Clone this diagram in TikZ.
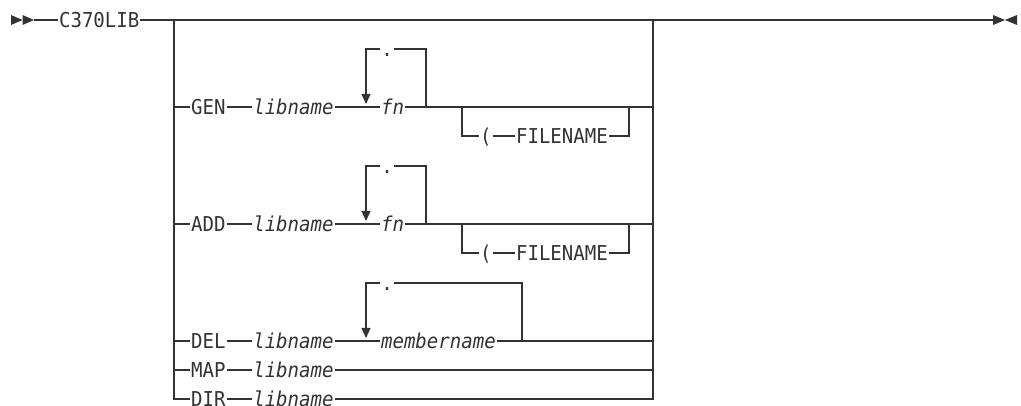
\documentclass[tikz,border=0pt]{standalone}
\usepackage{fontspec}
\setmonofont[FakeStretch=0.93]{DejaVu Sans Mono}
\usepackage{tikz}
\usetikzlibrary{arrows.meta,positioning}

\begin{document}
\begin{tikzpicture}[x=1pt,y=-1pt,line width=1.1pt,color=black!80,
    kw/.style={inner xsep=0.5pt,inner ysep=0pt,text height=14.9pt,text depth=0pt,
      font=\fontsize{20.5}{24}\selectfont\ttfamily},
    var/.style={kw,font=\fontsize{20.5}{24}\selectfont\ttfamily\itshape},
    rep/.style={-{Triangle[width=9pt,length=10pt]}}]
  \useasboundingbox (0,0) rectangle (1021,406);
  % start and end of the syntax line
  \coordinate (start) at (34,20);
  \coordinate (stop) at (993,20);
  \fill (11,15) -- (22.5,20) -- (11,25) -- cycle;
  \fill (22.5,15) -- (34,20) -- (22.5,25) -- cycle;
  \fill (993,15) -- (1005,20) -- (993,25) -- cycle;
  \fill (1017,15) -- (1005,20) -- (1017,25) -- cycle;
  \node[kw,anchor=west] (cmd) at (58,20) {C370LIB};
  \coordinate (lt) at (174,20);
  \coordinate (rt) at (653,20);
  \coordinate (dashL) at (659,20);
  \coordinate (dashR) at (683,20);
  \draw (start) -- (cmd);
  \draw (cmd) -- (stop);
  \draw[line width=2pt] (dashL) -- (dashR);
  % GEN and ADD: libname, repeated fn, optional (FILENAME
  \foreach \k/\y in {GEN/107,ADD/224} {
    \node[kw,anchor=west] (\k) at (190,\y) {\k};
    \node[var,right=25.7pt of \k] (lib\k) {libname};
    \node[var,anchor=west] (fn\k) at (380,\y) {fn};
    \node[kw] (dot\k) at (387,\y-58) {.};
    \coordinate (loopL\k) at (366,\y-58);
    \coordinate (loopR\k) at (426,\y-58);
    \coordinate (tip\k) at (366,\y-3);
    \coordinate (on\k) at (462,\y);
    \coordinate (off\k) at (629,\y);
    \node[kw,anchor=west] (par\k) at (479,\y+29) {(};
    \node[kw,anchor=west] (file\k) at (515,\y+29) {FILENAME};
    \draw (lt |- \k) -- (\k);
    \draw (\k) -- (lib\k);
    \draw (lib\k) -- (fn\k);
    \draw[rep] (dot\k) -- (loopL\k) -- (tip\k);
    \draw (dot\k) -- (loopR\k) -- (loopR\k |- fn\k);
    \draw (fn\k) -- (rt |- fn\k);
    \draw (on\k) -- (on\k |- par\k) -- (par\k);
    \draw (par\k) -- (file\k);
    \draw (file\k) -- (off\k |- file\k) -- (off\k);
  }
  % DEL: libname, repeated membername
  \node[kw,anchor=west] (DEL) at (190,341) {DEL};
  \node[var,right=25.7pt of DEL] (libDEL) {libname};
  \node[var,anchor=west] (member) at (380,341) {membername};
  \node[kw] (dotDEL) at (387,283) {.};
  \coordinate (loopLDEL) at (366,283);
  \coordinate (loopRDEL) at (522,283);
  \coordinate (tipDEL) at (366,338);
  \draw (lt |- DEL) -- (DEL);
  \draw (DEL) -- (libDEL);
  \draw (libDEL) -- (member);
  \draw[rep] (dotDEL) -- (loopLDEL) -- (tipDEL);
  \draw (dotDEL) -- (loopRDEL) -- (loopRDEL |- member);
  \draw (member) -- (rt |- member);
  % MAP and DIR
  \node[kw,anchor=west] (MAP) at (190,370) {MAP};
  \node[var,right=25.7pt of MAP] (libMAP) {libname};
  \node[kw,anchor=west] (DIR) at (190,399) {DIR};
  \node[var,right=25.7pt of DIR] (libDIR) {libname};
  \draw (lt |- MAP) -- (MAP);
  \draw (MAP) -- (libMAP);
  \draw (libMAP) -- (rt |- libMAP);
  \draw (lt) -- (lt |- DIR) -- (DIR);
  \draw (DIR) -- (libDIR);
  \draw (libDIR) -- (rt |- libDIR) -- (rt);
\end{tikzpicture}
\end{document}
